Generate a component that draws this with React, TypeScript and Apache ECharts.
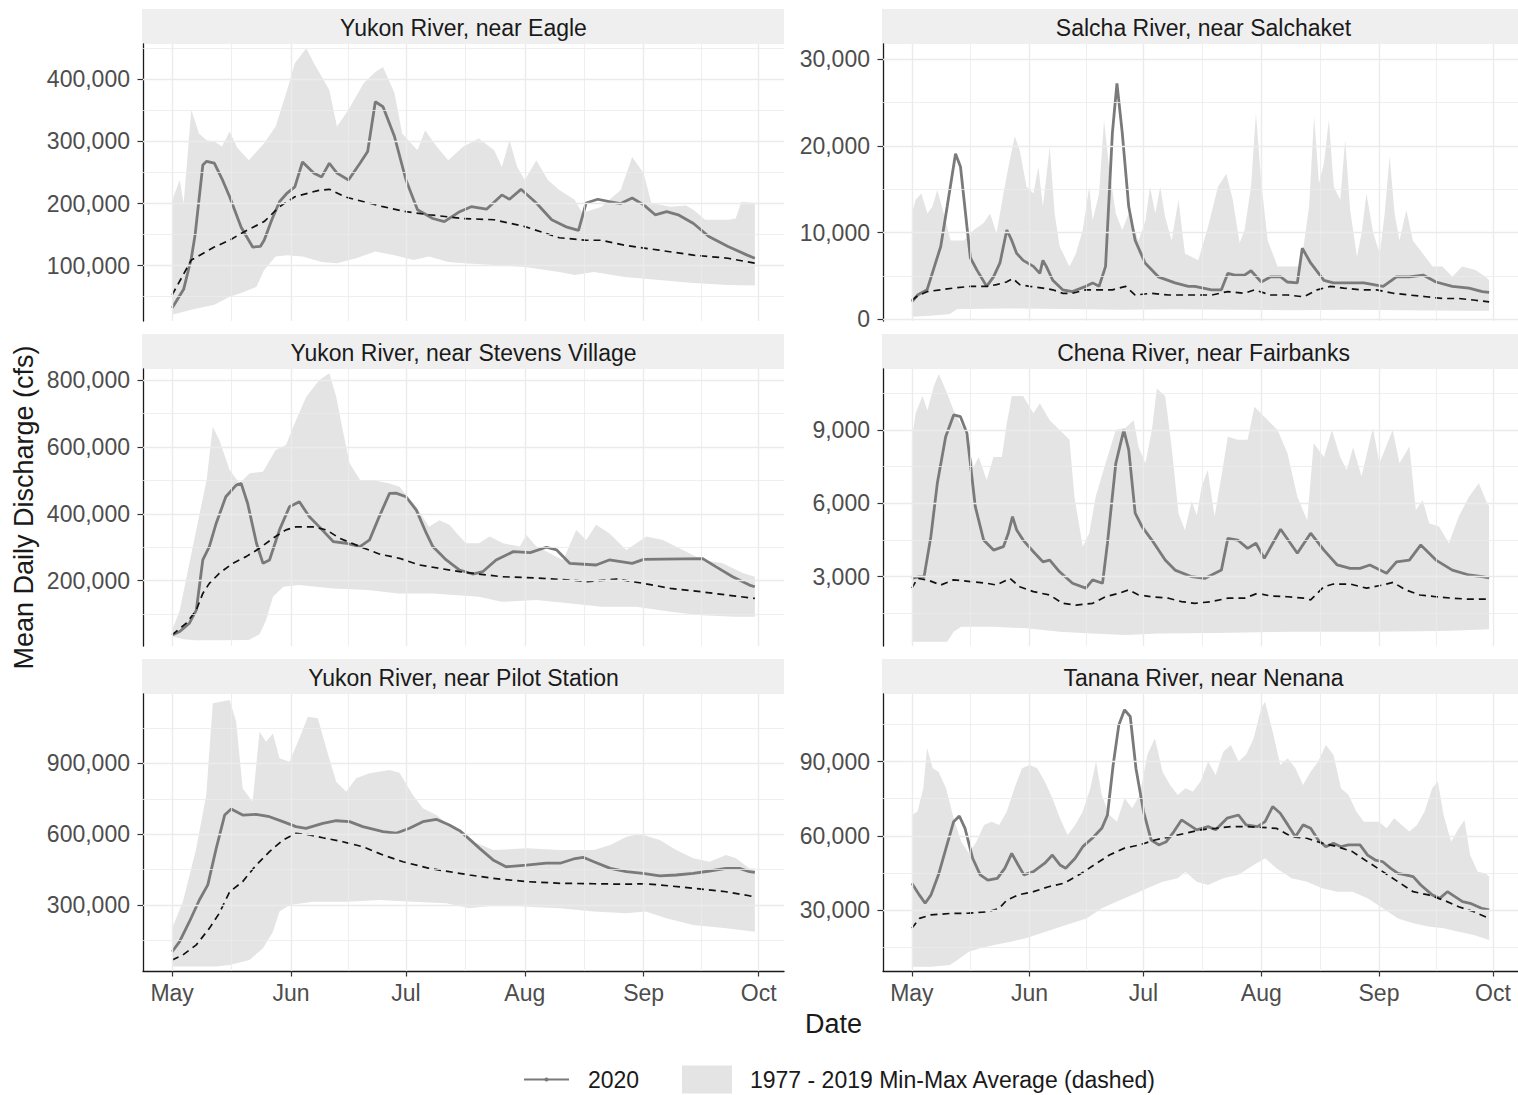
import React, { useEffect, useRef } from "react";
import * as echarts from "echarts";

type Pt = [number, number];

// x = days since May 1, y = thousand cfs
const MONTHS = ["May", "Jun", "Jul", "Aug", "Sep", "Oct"];
const MONTH_DAYS = [0, 31, 61, 92, 123, 153];
const MINOR_DAYS = [15.5, 46, 76.5, 107.5, 138];

const OBS_NAME = "2020";
const BAND_NAME = "1977 - 2019 Min-Max Average (dashed)";

// ---------- Yukon River, near Eagle ----------
const EAGLE_2020: Pt[] = [[0,32],[3,62],[5,112],[6,150],[8,262],[9,268],[11,265],[13,240],[15,211],[18,162],[21,130],[23,131],[24,141],[26,174],[28,203],[30,217],[32,227],[34,267],[37,249],[39,243],[41,265],[43,249],[46,238],[49,265],[51,284],[53,364],[55,356],[58,308],[61,238],[64,190],[68,176],[71,171],[75,187],[78,195],[82,191],[86,214],[88,207],[91,223],[95,201],[99,174],[103,162],[106,157],[108,201],[111,207],[114,203],[117,200],[120,209],[123,198],[126,182],[129,187],[132,182],[136,168],[140,147],[145,131],[150,117],[152,112]];
const EAGLE_AVG: Pt[] = [[0,53],[5,109],[11,130],[15,141],[18,152],[24,171],[28,195],[32,211],[38,221],[41,223],[45,211],[50,203],[55,195],[61,187],[67,182],[76,176],[84,174],[92,163],[101,145],[108,141],[112,141],[118,133],[127,125],[136,117],[145,112],[152,104]];
const EAGLE_MIN: Pt[] = [[0,21],[5,29],[11,37],[15,50],[18,56],[22,66],[24,93],[27,115],[30,117],[34,115],[39,106],[43,104],[48,112],[53,123],[58,117],[63,109],[67,115],[72,106],[76,104],[84,101],[92,98],[101,90],[105,85],[110,90],[118,82],[127,77],[136,72],[145,69],[152,68]];
const EAGLE_MAX: Pt[] = [[0,205],[2,238],[3,200],[5,351],[7,313],[9,302],[11,300],[13,292],[15,316],[17,290],[20,270],[24,297],[27,324],[30,383],[32,426],[35,450],[37,426],[41,383],[43,324],[46,351],[50,394],[53,412],[55,420],[58,378],[60,313],[64,286],[66,318],[69,292],[72,270],[76,292],[80,305],[84,286],[86,259],[88,302],[90,259],[92,238],[95,270],[98,238],[101,222],[105,206],[107,185],[112,195],[117,222],[120,275],[123,249],[125,201],[130,195],[134,197],[136,190],[139,174],[145,174],[147,176],[148.5,203],[152,201]];
const EAGLE_TICKS = [100000, 200000, 300000, 400000];
const EAGLE_MINOR = [50000, 150000, 250000, 350000, 450000];

// ---------- Salcha River, near Salchaket ----------
const SALCHA_2020: Pt[] = [[0,2.0],[1.5,2.8],[4,3.4],[7.6,8.4],[9.3,13.0],[11.5,19.1],[12.8,17.6],[14.5,10.7],[15.4,7.1],[17.1,5.7],[19.7,3.8],[21.5,4.9],[23.2,6.5],[25,10.3],[26.3,9.1],[27.6,7.6],[29.3,6.8],[32,6.1],[33.7,5.3],[34.5,6.8],[35.4,6.1],[37.1,4.5],[39.7,3.4],[42.3,3.2],[45.8,3.8],[47.6,4.2],[49.3,3.8],[51,6.1],[52.8,21.5],[54,27.2],[55.4,21.5],[57.1,13.0],[58.8,9.1],[61.4,6.5],[64.9,4.9],[69.3,4.2],[72.8,3.8],[74.5,3.8],[78.9,3.4],[81.5,3.4],[83.2,5.3],[85,5.1],[87.6,5.1],[89.3,5.6],[92,4.3],[94.5,4.9],[97.1,4.9],[98.9,4.3],[101.5,4.2],[102.8,8.2],[105,6.5],[108.5,4.5],[111,4.2],[119,4.2],[124.1,3.8],[127.6,4.9],[131,4.9],[134.6,5.1],[138,4.3],[142.3,3.8],[146.7,3.6],[150.2,3.2],[152,3.1]];
const SALCHA_AVG: Pt[] = [[0,2.2],[1.5,2.7],[4.1,3.2],[7.6,3.4],[11,3.6],[15.4,3.8],[19.7,3.8],[22.3,4.0],[24.9,4.3],[26.6,4.7],[28.4,4.0],[31,3.8],[34.5,3.6],[37.1,3.4],[39.7,3.0],[42.3,3.0],[45.8,3.4],[52.8,3.4],[56.3,3.8],[58.8,2.8],[63.2,3.0],[67.6,2.8],[79,2.8],[83.2,3.2],[87.6,3.0],[90.2,3.4],[94.5,2.8],[98.9,2.8],[103.2,2.6],[106.7,3.4],[110.2,3.8],[113.7,3.6],[118,3.4],[122.4,3.4],[126.8,3.0],[131,2.8],[135.4,2.6],[139.7,2.4],[144,2.4],[148.4,2.2],[152,2.0]];
const SALCHA_MIN: Pt[] = [[0,0.3],[5,0.4],[10,0.6],[12,1.2],[25,1.25],[40,1.2],[55,1.1],[70,1.15],[85,1.1],[100,1.05],[115,1.1],[130,1.05],[145,1.0],[152,1.0]];
const SALCHA_MAX: Pt[] = [[0,12.2],[1,13.8],[2.5,14.5],[4.1,12.2],[5.4,13.0],[6.7,14.9],[8.4,12.2],[10.2,9.1],[13.7,9.1],[16.3,10.3],[18.9,11.1],[20.6,12.2],[22.3,9.9],[24.1,14.5],[25.8,18.4],[27.1,21.1],[28.4,19.5],[30.2,15.3],[32,14.5],[33.3,17.6],[34.5,13.0],[36.3,19.9],[37.6,12.2],[38.9,8.4],[41.5,6.1],[43.2,7.6],[45,10.3],[46.7,15.3],[47.6,11.4],[49.3,14.5],[50.6,23.0],[51.9,17.6],[53.7,12.2],[55.4,10.3],[57.1,12.2],[59.7,9.1],[61.5,11.4],[62.7,15.3],[64.1,12.2],[65.4,15.3],[66.7,11.8],[68.4,9.1],[70.2,13.8],[71.9,7.6],[75.4,6.8],[78,10.7],[80.6,15.3],[82.8,16.8],[84.5,13.8],[86.3,8.8],[87.6,10.3],[89.3,15.3],[90.6,23.8],[92,15.7],[93.7,9.1],[96.3,6.1],[102.4,6.1],[104.6,13.0],[105.9,23.4],[107.2,15.7],[108.5,18.0],[109.8,23.0],[111.1,15.3],[112.8,13.8],[114.1,20.7],[115.4,12.6],[117.2,7.2],[118.4,9.9],[119.7,14.5],[121.5,9.9],[123.2,7.6],[124.5,12.2],[125.8,18.8],[127.1,12.2],[128.4,9.1],[130.2,12.6],[131.9,9.1],[134.5,7.6],[137.1,6.1],[139.7,6.1],[142.3,4.9],[144.9,6.1],[148.4,5.7],[151,4.9],[152,4.5]];
const SALCHA_TICKS = [0, 10000, 20000, 30000];
const SALCHA_MINOR = [5000, 15000, 25000];

// ---------- Yukon River, near Stevens Village ----------
const STEVENS_2020: Pt[] = [[0,38],[2,48],[4.5,73],[6.3,112],[8,262],[9.7,302],[11.5,372],[14,451],[16.7,486],[18,491],[19.7,431],[22,312],[23.7,252],[25.4,262],[28,352],[30.6,421],[33.2,436],[35.8,391],[38.4,361],[42,317],[45.4,312],[49,302],[51.5,322],[54,391],[56.7,461],[58.4,462],[61,451],[63.7,411],[66.3,342],[68,302],[71.5,262],[75,232],[78.4,220],[81,227],[84.5,262],[89,287],[93.4,284],[97.6,300],[100.3,292],[103.7,252],[110.6,247],[114,262],[120,252],[123,264],[138.4,266],[141.8,242],[146.2,212],[150.6,187],[152,182]];
const STEVENS_AVG: Pt[] = [[0,38],[3.7,73],[6.3,112],[8,162],[9.7,192],[12.3,222],[15.8,252],[19.3,272],[22.8,297],[26.3,327],[29.7,352],[32.3,361],[36.7,361],[40.2,352],[43.7,327],[49,302],[54,280],[59.3,267],[64.5,247],[69.7,237],[75,227],[80,220],[86,212],[95,208],[104,202],[108,197],[116,205],[123,192],[130,177],[138,167],[147,154],[152,147]];
const STEVENS_MIN: Pt[] = [[0,33],[3,25],[6,22],[12,22],[20,23],[22.8,40],[24.5,82],[26.3,152],[29,182],[33,187],[42,177],[51,172],[59,162],[68,162],[80,152],[86,137],[95,142],[104,132],[112,122],[121,122],[130,107],[138,97],[147,92],[152,92]];
const STEVENS_MAX: Pt[] = [[0,53],[2,112],[4.5,252],[7,391],[9,501],[10.6,660],[12.3,621],[15,531],[17.6,491],[20.2,521],[23.7,526],[27,591],[29.7,606],[32.3,680],[35,750],[38.4,800],[41,820],[42.8,750],[44.5,650],[46.3,551],[49,501],[52.3,501],[56.7,491],[59.3,481],[63.7,421],[67,361],[69.7,381],[72.3,367],[76.6,312],[80,312],[82.8,332],[86.3,312],[90.7,302],[92.4,337],[95,302],[102,262],[105.4,352],[108,322],[110.6,367],[114,342],[118.5,292],[123.7,332],[128,322],[133.2,292],[138.4,262],[143.6,252],[149,222],[152,212]];
const STEVENS_TICKS = [200000, 400000, 600000, 800000];
const STEVENS_MINOR = [100000, 300000, 500000, 700000];

// ---------- Chena River, near Fairbanks ----------
const CHENA_2020: Pt[] = [[0,2.93],[1.9,2.99],[3.2,2.99],[5,4.64],[6.7,6.82],[8.9,8.73],[11,9.62],[12.8,9.55],[14.5,8.87],[16.7,5.87],[18.9,4.5],[21.5,4.09],[24.1,4.23],[25.4,4.78],[26.5,5.46],[27.6,4.91],[29.3,4.5],[32,4.02],[34.5,3.61],[36.3,3.68],[38.9,3.2],[42.3,2.73],[45.8,2.53],[47.6,2.87],[50.2,2.73],[51.5,4.37],[53.7,7.64],[55.8,9.0],[57.1,8.19],[58.8,5.6],[60.6,5.05],[63.2,4.5],[66.7,3.68],[69.3,3.27],[73.7,3.0],[77.1,2.93],[81.5,3.27],[83.2,4.57],[85.8,4.5],[88.4,4.16],[90.6,4.37],[92.8,3.75],[97.1,4.94],[101.5,3.96],[105,4.78],[108.5,4.09],[112,3.48],[115.4,3.34],[118,3.34],[120.6,3.48],[125,3.14],[127.6,3.61],[131,3.68],[134,4.3],[138,3.68],[142.3,3.27],[146.7,3.07],[150.2,3.0],[152,2.95]];
const CHENA_AVG: Pt[] = [[0,2.53],[1.5,2.93],[4.1,2.87],[7.6,2.66],[11,2.87],[15.4,2.8],[19.7,2.73],[22.3,2.66],[25.8,2.93],[28.4,2.59],[32,2.39],[36.3,2.25],[39.7,1.91],[43.2,1.84],[47.6,1.91],[51,2.18],[54.5,2.32],[57.1,2.46],[59.7,2.25],[63.2,2.18],[67.6,2.12],[71,1.98],[74.5,1.91],[78.9,1.98],[83.2,2.12],[87.6,2.12],[91,2.32],[94.5,2.21],[98.9,2.18],[103.2,2.12],[105,2.05],[108.5,2.59],[111,2.7],[115.4,2.7],[119.7,2.53],[124,2.66],[126.7,2.77],[130,2.46],[133.8,2.25],[138,2.18],[142.3,2.12],[146.7,2.08],[152,2.08]];
const CHENA_MIN: Pt[] = [[0,0.34],[9.3,0.34],[11,0.75],[13,0.95],[21.5,0.95],[30.2,0.89],[38.9,0.75],[47.6,0.68],[56.3,0.61],[65,0.68],[80,0.7],[100,0.75],[120,0.75],[140,0.78],[152,0.85]];
const CHENA_MAX: Pt[] = [[0,8.6],[1,9.69],[2.8,10.4],[4.1,9.8],[5.8,10.8],[7.1,11.3],[9.3,10.5],[11,9.8],[13.7,9.0],[16.3,7.5],[17.6,7.9],[19.7,6.96],[21.5,7.9],[23.7,7.9],[25,9.28],[26.3,10.4],[29.3,10.4],[32,9.69],[33.7,10.1],[36.3,9.4],[38.9,9.0],[41.5,8.6],[42.8,6.27],[45,4.23],[46.7,4.78],[48.4,6.27],[51,7.64],[53.7,9.0],[56.3,9.1],[58.4,9.4],[59.7,8.3],[61.5,7.64],[63.2,9.0],[64.5,10.7],[66.7,10.4],[68.4,8.3],[70.2,5.6],[71.9,4.9],[73.7,6.1],[75,5.5],[76.3,6.68],[77.9,7.37],[79.7,5.46],[81.5,7.1],[83.2,8.73],[85.8,8.6],[88.4,8.6],[90.2,9.96],[92.8,9.55],[96.3,9.0],[98.9,8.05],[101.5,6.27],[104.1,5.3],[105.8,8.46],[108.5,7.9],[110.6,9.0],[112.8,7.9],[114.5,7.37],[116.2,8.3],[118.4,7.1],[121.4,9.1],[123.1,7.64],[126.6,9.0],[128.4,7.64],[131,8.33],[132.7,5.73],[134.5,6.14],[136.2,5.19],[138.8,5.05],[141.4,4.37],[144,5.46],[146.7,6.27],[149.3,6.82],[151.5,6.0],[152,5.9]];
const CHENA_TICKS = [3000, 6000, 9000];
const CHENA_MINOR = [1500, 4500, 7500, 10500];

// ---------- Yukon River, near Pilot Station ----------
const PILOT_2020: Pt[] = [[0,102],[1.9,144],[4.5,229],[7.1,321],[9.3,385],[11.5,540],[13.7,681],[15.4,707],[18.4,681],[21.9,684],[25.4,674],[28.9,653],[32.3,632],[34.9,625],[39.3,646],[42.8,657],[46.3,653],[49.7,632],[55,611],[58.4,604],[61.9,625],[65.4,653],[68.9,663],[72.3,639],[75,615],[77.6,578],[80.2,540],[83.7,491],[87.1,462],[92.4,469],[97.6,477],[101.2,477],[104.7,495],[107.2,502],[110,483],[114.3,455],[118.5,441],[122.8,434],[127.2,423],[131.5,427],[135.9,434],[140.2,444],[144.5,455],[148,455],[150.6,441],[152,438]];
const PILOT_AVG: Pt[] = [[0,67],[2.8,88],[6.3,131],[9.7,201],[12.3,265],[15,356],[18.4,399],[21.9,469],[25.4,526],[28.9,575],[32.3,604],[35.8,597],[39.3,585],[44.5,568],[49.7,547],[55,512],[60.2,483],[67.1,455],[72.3,441],[77.6,427],[83.7,413],[92.4,399],[101.2,392],[110,390],[118.5,388],[122.8,390],[127.2,385],[135.9,371],[144.5,356],[150.6,339],[152,336]];
const PILOT_MIN: Pt[] = [[0,39],[11.5,39],[15,46],[20.2,67],[23.7,117],[26.3,187],[28,272],[30.6,300],[36.7,314],[45.4,314],[54.1,321],[62.8,314],[71.5,307],[77.6,286],[85,300],[95,290],[101.2,286],[110,272],[118.5,265],[123.5,272],[128.9,244],[135.9,215],[144.5,201],[152,187]];
const PILOT_MAX: Pt[] = [[0,201],[2.8,314],[6.3,540],[8.9,766],[10.6,1155],[15,1169],[16.7,1077],[18.4,794],[21,738],[22.8,1034],[24.5,992],[26.3,1027],[28,922],[30.6,907],[33.2,1006],[35.4,1098],[38,1091],[40.2,964],[42.8,822],[45.4,780],[48,837],[51.5,858],[56.7,872],[59.3,860],[62.8,766],[65.4,710],[68.9,681],[72.3,639],[77.6,575],[83.7,533],[92.4,540],[101.2,533],[110,533],[114.3,554],[118.5,589],[122,601],[127.2,575],[131.5,533],[135.9,498],[140.2,483],[144.5,512],[147.1,498],[150.6,455],[152,455]];
const PILOT_TICKS = [300000, 600000, 900000];
const PILOT_MINOR = [150000, 450000, 750000, 1050000];

// ---------- Tanana River, near Nenana ----------
const TANANA_2020: Pt[] = [[0,40.8],[2,36],[3.5,32.7],[5,36],[7,44.2],[9,55],[11,65.7],[12.5,68],[14,63],[16,50.9],[18,44.2],[20,42.1],[22.5,42.8],[24.5,46.9],[26.3,52.9],[28,48.2],[29.5,44.2],[32,45.5],[35,48.9],[37,52.2],[39,48.2],[40.5,46.9],[43,50.9],[45,55.6],[47.5,59],[50,63],[51.5,68.4],[53,88.6],[54.5,104.8],[56,110.9],[57.5,108.2],[59,87.3],[61,69.8],[63,58.3],[65,56.3],[67,57.6],[69,61.7],[71,66.4],[73,64.4],[75,62.4],[78,63.7],[80,62.4],[83,67.1],[86,68.4],[88,64.4],[91,63.7],[93,65.7],[95,71.8],[97,69.1],[99,64.4],[101,59.6],[103,64.4],[105,63],[107,58.3],[109,55.6],[111,57],[113,55.6],[115,56.3],[118,56.3],[120,52.2],[122,50.2],[124,49.5],[126,46.9],[128,44.8],[130,44.2],[132,43.5],[134,40.1],[137,36.1],[139,34.7],[141,37.4],[143,35.4],[145,33.4],[147,32.7],[150,30.7],[152,30]];
const TANANA_AVG: Pt[] = [[0,22.6],[2,26.6],[5,28],[10,28.6],[15,28.7],[20,29.3],[23,30.7],[25,34],[28,36.1],[32,37.4],[36,39.4],[40,40.8],[44,44.2],[48,48.2],[52,52.2],[56,55],[60,56.3],[64,58.3],[68,59.6],[72,61],[76,62.4],[80,63],[84,63.7],[88,63.7],[92,63.4],[96,63],[100,59.6],[104,59],[108,57],[112,55.6],[116,53.6],[120,49.5],[124,45.5],[128,41.4],[132,37.4],[136,36.1],[140,34],[144,31.3],[148,29.3],[152,26.6]];
const TANANA_MIN: Pt[] = [[0,7.1],[5,7.1],[10,7.8],[12,9.8],[15,13.1],[18,14.5],[22,15.9],[26,17.2],[30,18.6],[34,20.6],[38,22.6],[42,24.6],[46,26.6],[50,30.7],[54,33.4],[58,36.1],[62,38.8],[66,41.4],[70,42.8],[72,45.5],[75,41.4],[78,40.1],[82,42.8],[86,44.2],[90,48.2],[93,50.9],[96,46.9],[100,42.8],[104,41.4],[108,38.8],[112,37.4],[116,37.4],[120,34.7],[124,30.7],[128,26.6],[132,24.6],[136,23.3],[140,22.6],[144,21.2],[148,19.9],[152,17.9]];
const TANANA_MAX: Pt[] = [[0,68.4],[1.5,69.8],[3,79.2],[4,95.4],[5.5,87.3],[7,85.9],[9,79.2],[11,67.1],[13,57.6],[15,52.9],[17,57.6],[19,64.4],[21,65.7],[23,64.4],[25,69.8],[27,79.2],[29,87.3],[31,88.6],[33,87.3],[35,81.9],[37,75.2],[39,67.1],[41,60.3],[43,64.4],[45,69.8],[47,79.2],[48.5,90],[50,76.5],[52,68.4],[54,65.7],[56,75.2],[58,71.1],[60,76.5],[62,92.7],[64,99.4],[66,85.9],[68,80.5],[70,76.5],[72,79.2],[74,77.9],[76,81.9],[78,90],[80,84.6],[82,94],[84,96.7],[86,90],[88,92.7],[90,99.4],[92,111.6],[93,114.2],[95,102.1],[97,88.6],[99,91.3],[101,87.3],[103,80.5],[105,85.9],[107,90],[109,96.7],[111,92.7],[113,79.2],[115,76.5],[117,69.8],[119,65.7],[123,65.7],[125,63],[127,67.1],[129,64.4],[131,61.7],[133,64.4],[135,69.8],[137,79.2],[138.5,81.9],[140,68.4],[142,57.6],[144,63],[145.5,66.4],[147,52.2],[149,45.5],[151,44.8],[152,43.5]];
const TANANA_TICKS = [30000, 60000, 90000];
const TANANA_MINOR = [15000, 45000, 75000, 105000];

const PANELS = [
  { title: "Yukon River, near Eagle", obs: EAGLE_2020, avg: EAGLE_AVG, lo: EAGLE_MIN, hi: EAGLE_MAX, ticks: EAGLE_TICKS, minor: EAGLE_MINOR, yMin: 10950, yMax: 457000 },
  { title: "Salcha River, near Salchaket", obs: SALCHA_2020, avg: SALCHA_AVG, lo: SALCHA_MIN, hi: SALCHA_MAX, ticks: SALCHA_TICKS, minor: SALCHA_MINOR, yMin: -196, yMax: 31750 },
  { title: "Yukon River, near Stevens Village", obs: STEVENS_2020, avg: STEVENS_AVG, lo: STEVENS_MIN, hi: STEVENS_MAX, ticks: STEVENS_TICKS, minor: STEVENS_MINOR, yMin: 4800, yMax: 833000 },
  { title: "Chena River, near Fairbanks", obs: CHENA_2020, avg: CHENA_AVG, lo: CHENA_MIN, hi: CHENA_MAX, ticks: CHENA_TICKS, minor: CHENA_MINOR, yMin: 164, yMax: 11500 },
  { title: "Yukon River, near Pilot Station", obs: PILOT_2020, avg: PILOT_AVG, lo: PILOT_MIN, hi: PILOT_MAX, ticks: PILOT_TICKS, minor: PILOT_MINOR, yMin: 20300, yMax: 1194000 },
  { title: "Tanana River, near Nenana", obs: TANANA_2020, avg: TANANA_AVG, lo: TANANA_MIN, hi: TANANA_MAX, ticks: TANANA_TICKS, minor: TANANA_MINOR, yMin: 5340, yMax: 117300 },
];

const UNIT = 1000;
const X_MIN = -7.6;
const X_MAX = 159.6;

const COL_LEFT = [143, 883];
const ROW_TOP = [44, 369, 694];
const PANEL_W = 641;
const PANEL_H = 277;
const STRIP_H = 35;

const FONT = "'Liberation Sans', Arial, Helvetica, sans-serif";
const GRID_COLOR = "#ebebeb";
const BAND_COLOR = "#e4e4e4";
const OBS_COLOR = "#7a7a7a";
const AXIS_COLOR = "#1a1a1a";
const TICK_TEXT = "#4d4d4d";

const toCfs = (pts: Pt[]) => pts.map(([d, v]) => [d, v * UNIT]);

function buildOption() {
  const grid: any[] = [];
  const xAxis: any[] = [];
  const yAxis: any[] = [];
  const series: any[] = [];
  const graphic: any[] = [];

  PANELS.forEach((p, i) => {
    const col = i % 2;
    const row = Math.floor(i / 2);
    const left = COL_LEFT[col];
    const top = ROW_TOP[row];
    const bottomRow = row === 2;

    grid.push({ left, top, width: PANEL_W, height: PANEL_H, containLabel: false });

    xAxis.push({
      type: "value",
      gridIndex: i,
      min: X_MIN,
      max: X_MAX,
      show: bottomRow,
      axisLine: { show: true, onZero: false, lineStyle: { color: AXIS_COLOR, width: 1.3 } },
      axisTick: { show: true, customValues: MONTH_DAYS, length: 5.5, lineStyle: { color: "#333", width: 1.2 } },
      axisLabel: {
        show: true,
        customValues: MONTH_DAYS,
        formatter: (v: number) => {
          const k = MONTH_DAYS.indexOf(v);
          return k >= 0 ? MONTHS[k] : "";
        },
        fontSize: 23,
        color: TICK_TEXT,
        fontFamily: FONT,
        margin: 10,
      },
      splitLine: { show: false },
    });

    yAxis.push({
      type: "value",
      gridIndex: i,
      min: p.yMin,
      max: p.yMax,
      axisLine: { show: true, onZero: false, lineStyle: { color: AXIS_COLOR, width: 1.3 } },
      axisTick: { show: true, customValues: p.ticks, length: 5.5, lineStyle: { color: "#333", width: 1.2 } },
      axisLabel: {
        show: true,
        customValues: p.ticks,
        formatter: (v: number) => v.toLocaleString("en-US"),
        fontSize: 23,
        color: TICK_TEXT,
        fontFamily: FONT,
        margin: 13,
      },
      splitLine: { show: false },
    });

    // grid lines (major + minor) via markLine on an empty helper series
    const gl: any[] = [];
    MONTH_DAYS.forEach((d) => gl.push({ xAxis: d, lineStyle: { color: GRID_COLOR, width: 1.4, type: "solid" } }));
    MINOR_DAYS.forEach((d) => gl.push({ xAxis: d, lineStyle: { color: GRID_COLOR, width: 0.8, type: "solid" } }));
    p.ticks.forEach((v) => gl.push({ yAxis: v, lineStyle: { color: GRID_COLOR, width: 1.4, type: "solid" } }));
    p.minor.forEach((v) => gl.push({ yAxis: v, lineStyle: { color: GRID_COLOR, width: 0.8, type: "solid" } }));
    series.push({
      type: "line",
      name: "grid" + i,
      xAxisIndex: i,
      yAxisIndex: i,
      data: [],
      silent: true,
      z: 1,
      markLine: {
        silent: true,
        symbol: ["none", "none"],
        label: { show: false },
        emphasis: { disabled: true },
        data: gl,
      },
    });

    const hi = toCfs(p.hi);
    const lo = toCfs(p.lo);
    series.push({
      type: "custom",
      name: BAND_NAME,
      xAxisIndex: i,
      yAxisIndex: i,
      z: 2,
      silent: true,
      itemStyle: { color: BAND_COLOR },
      data: [hi[0]],
      renderItem: (_params: any, api: any) => {
        const pts = hi.map((q) => api.coord(q)).concat(lo.slice().reverse().map((q) => api.coord(q)));
        return { type: "polygon", shape: { points: pts }, style: { fill: BAND_COLOR } };
      },
    });

    series.push({
      type: "line",
      name: OBS_NAME,
      xAxisIndex: i,
      yAxisIndex: i,
      z: 3,
      data: toCfs(p.obs),
      showSymbol: false,
      symbol: "circle",
      symbolSize: 4,
      silent: true,
      itemStyle: { color: OBS_COLOR },
      lineStyle: { color: OBS_COLOR, width: 2.8 },
    });

    series.push({
      type: "line",
      name: "avg" + i,
      xAxisIndex: i,
      yAxisIndex: i,
      z: 4,
      data: toCfs(p.avg),
      showSymbol: false,
      silent: true,
      lineStyle: { color: "#111", width: 1.7, type: [7, 5] },
    });

    const stripTop = top - STRIP_H;
    graphic.push({
      type: "rect",
      silent: true,
      shape: { x: left - 1, y: stripTop, width: PANEL_W + 1, height: STRIP_H },
      style: { fill: "#efefef" },
    });
    graphic.push({
      type: "text",
      silent: true,
      x: left + PANEL_W / 2,
      y: stripTop + 18.5,
      style: {
        text: p.title,
        fontSize: 23,
        fontFamily: FONT,
        fill: "#1a1a1a",
        align: "center",
        verticalAlign: "middle",
        textAlign: "center",
        textVerticalAlign: "middle",
      },
    });
  });

  graphic.push({
    type: "text",
    silent: true,
    x: 24,
    y: ROW_TOP[1] + PANEL_H / 2,
    rotation: Math.PI / 2,
    style: {
      text: "Mean Daily Discharge (cfs)",
      fontSize: 27,
      fontFamily: FONT,
      fill: "#1a1a1a",
      align: "center",
      verticalAlign: "middle",
      textAlign: "center",
      textVerticalAlign: "middle",
    },
  });
  graphic.push({
    type: "text",
    silent: true,
    x: (COL_LEFT[0] + COL_LEFT[1] + PANEL_W) / 2,
    y: 1023.5,
    style: {
      text: "Date",
      fontSize: 27,
      fontFamily: FONT,
      fill: "#1a1a1a",
      align: "center",
      verticalAlign: "middle",
      textAlign: "center",
      textVerticalAlign: "middle",
    },
  });

  const legendText = { fontSize: 23, fontFamily: FONT, color: "#1a1a1a" };

  return {
    animation: false,
    backgroundColor: "#ffffff",
    textStyle: { fontFamily: FONT },
    grid,
    xAxis,
    yAxis,
    series,
    graphic,
    legend: [
      {
        data: [OBS_NAME],
        left: 523,
        top: 1068,
        padding: 0,
        itemWidth: 45,
        itemHeight: 5,
        selectedMode: false,
        textStyle: { ...legendText, padding: [0, 0, 0, 14] },
      },
      {
        data: [{ name: BAND_NAME, icon: "rect", itemStyle: { color: BAND_COLOR } }],
        left: 682,
        top: 1065.5,
        padding: 0,
        itemWidth: 50,
        itemHeight: 28,
        selectedMode: false,
        textStyle: { ...legendText, padding: [0, 0, 0, 13] },
      },
    ],
  };
}

export default function App() {
  const ref = useRef<HTMLDivElement>(null);
  useEffect(() => {
    if (!ref.current) return;
    const chart = echarts.init(ref.current, null, { renderer: "svg" });
    chart.setOption(buildOption() as any);
    return () => chart.dispose();
  }, []);
  return (
    <div
      ref={ref}
      style={{ position: "absolute", left: 0, top: 0, width: 1518, height: 1095, background: "#fff" }}
    />
  );
}
